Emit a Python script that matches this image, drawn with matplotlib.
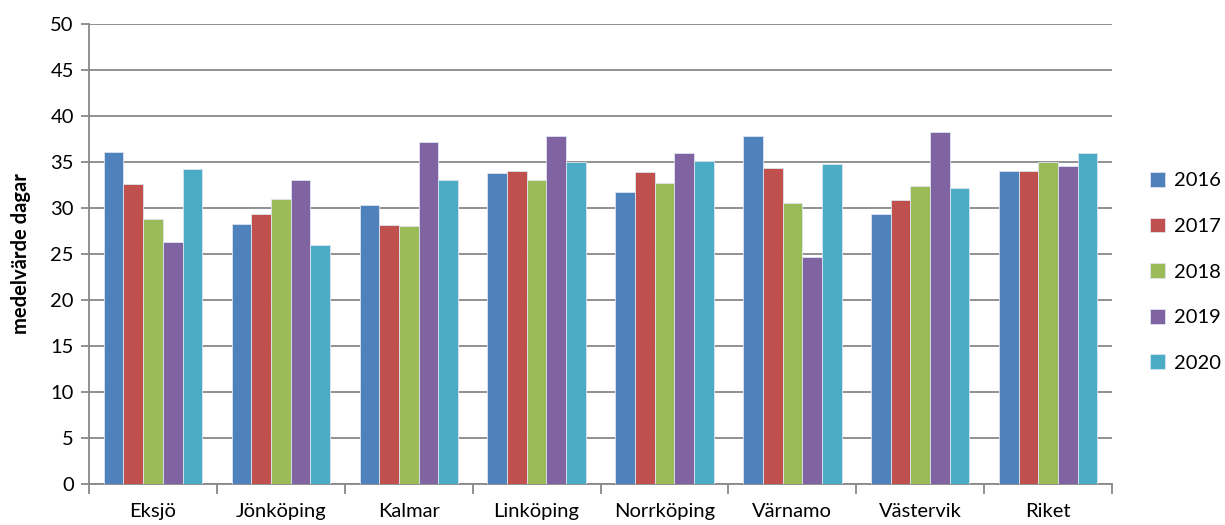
import matplotlib
matplotlib.use("Agg")
import matplotlib.pyplot as plt
import numpy as np

plt.rcParams['font.family'] = ['Lato', 'DejaVu Sans']

categories = ["Eksjö", "Jönköping", "Kalmar", "Linköping", "Norrköping", "Värnamo", "Västervik", "Riket"]
years = ["2016", "2017", "2018", "2019", "2020"]
v2016 = [36.1, 28.3, 30.3, 33.8, 31.7, 37.8, 29.3, 34.0]
v2017 = [32.6, 29.3, 28.1, 34.0, 33.9, 34.3, 30.9, 34.0]
v2018 = [28.8, 31.0, 28.0, 33.0, 32.7, 30.5, 32.4, 35.0]
v2019 = [26.3, 33.0, 37.2, 37.8, 36.0, 24.7, 38.3, 34.6]
v2020 = [34.2, 26.0, 33.0, 35.0, 35.1, 34.8, 32.2, 36.0]
series = [v2016, v2017, v2018, v2019, v2020]
colors = ["#4F81BD", "#C0504D", "#9BBB59", "#8064A2", "#4BACC6"]

fig = plt.figure(figsize=(12.25, 5.25), dpi=100)
ax = fig.add_axes([0.0727, 0.0781, 0.9078 - 0.0727, 0.9543 - 0.0781])

x = np.arange(len(categories))
n = len(series)
group = 0.77
w = group / n
for i, (vals, c, lab) in enumerate(zip(series, colors, years)):
    ax.bar(x - group / 2 + w * (i + 0.5), vals, width=w, color=c, label=lab,
           edgecolor="#dde4ee", linewidth=0.6, zorder=3)

ax.set_xlim(-0.5, len(categories) - 0.5)
ax.set_ylim(0, 50)
ax.set_yticks(np.arange(0, 51, 5))
ax.yaxis.grid(True, color="#888888", linewidth=1.3, zorder=0)
ax.set_axisbelow(True)

ax.set_xticks(x)
ax.set_xticklabels(categories, fontsize=14.5)
ax.tick_params(axis='x', length=0, pad=14)
ax.set_xticks(np.arange(-0.5, len(categories) + 0.5, 1), minor=True)
ax.tick_params(axis='x', which='minor', length=7, width=1.3, color="#888888")
ax.tick_params(axis='y', length=6, width=1.3, color="#888888", labelsize=14.5, pad=5)

for s in ["top", "right"]:
    ax.spines[s].set_visible(False)
for s in ["left", "bottom"]:
    ax.spines[s].set_color("#888888")
    ax.spines[s].set_linewidth(1.3)

ax.set_ylabel("medelvärde dagar", fontsize=14.5, fontweight="bold", labelpad=14)

leg = fig.legend(loc="upper left", bbox_to_anchor=(1150 / 1225, 1 - 172 / 525),
                 bbox_transform=fig.transFigure, frameon=False,
                 fontsize=14.5, handlelength=0.75, handleheight=0.75, labelspacing=1.4,
                 handletextpad=0.45, borderpad=0, borderaxespad=0)

fig.savefig("out.png", dpi=100)
